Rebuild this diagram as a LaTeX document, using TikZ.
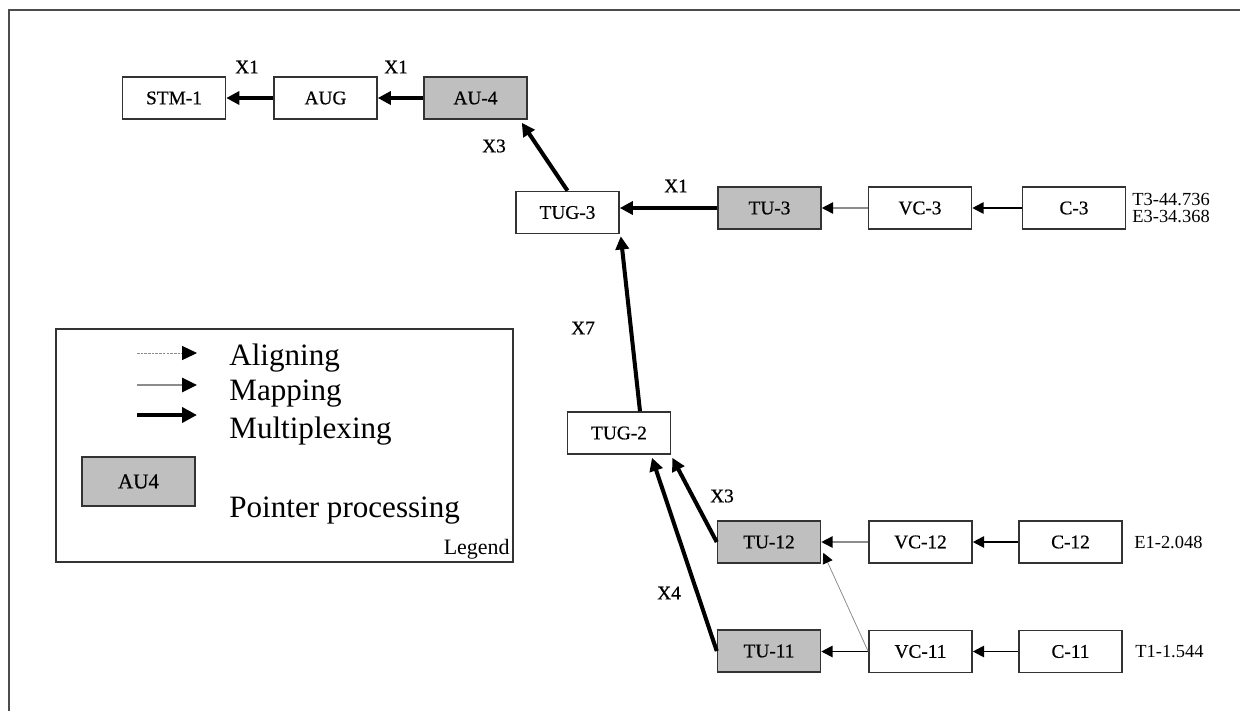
\documentclass[tikz,border=0pt]{standalone}
\usepackage{fontspec}
\setmainfont{Liberation Serif}
\newfontfamily\unitfont{Liberation Serif}[FakeBold=0.6]
\usetikzlibrary{arrows.meta,calc}

\tikzset{
  unitbox/.style={draw=black!80, line width=0.9pt, fill=white, minimum width=2.06cm,
    minimum height=0.84cm, inner sep=0pt, font=\unitfont\fontsize{11}{13}\selectfont},
  ptrbox/.style={unitbox, fill=black!25},
  mux/.style={draw=black, line width=2.3pt, -{Triangle[length=7.5pt,width=7.5pt]}},
  mapping/.style={draw=black!45, line width=0.9pt, -{Triangle[length=6.5pt,width=6.5pt,color=black]}},
  feed/.style={draw=black, line width=1.1pt, -{Triangle[length=6.5pt,width=6.5pt]}},
  aligning/.style={draw=black!45, line width=0.45pt, -{Triangle[length=6pt,width=6pt,color=black]}},
  mult/.style={font=\unitfont\fontsize{11}{13}\selectfont, inner sep=0pt},
  rate/.style={font=\fontsize{10.5}{12}\selectfont, inner sep=0pt, align=left, anchor=west},
  legtext/.style={font=\fontsize{17.7}{20}\selectfont, inner sep=0pt, anchor=base west}
}

\begin{document}
\begin{tikzpicture}[x=0.02cm, y=-0.02cm]
        \useasboundingbox (0,0) rectangle (1240,711);

        % Draw the outer frame
        \draw[black!70, line width=1.2pt] (9,711) -- (9,10) -- (1240,10);

        % Draw the top row
        \node[unitbox] (stm1) at (174,98) {STM-1};
        \node[unitbox] (aug) at (325.5,98) {AUG};
        \node[ptrbox] (au4) at (475.5,98) {AU-4};

        % Draw the TUG-3 branch
        \node[unitbox] (tug3) at (567.5,212.5) {TUG-3};
        \node[ptrbox] (tu3) at (769.5,208) {TU-3};
        \node[unitbox] (vc3) at (920,208) {VC-3};
        \node[unitbox] (c3) at (1074,208) {C-3};
        \node[rate] (r3) at (1132,208) {T3-44.736\\[-2pt]E3-34.368};

        % Draw the TUG-2 branch
        \node[unitbox] (tug2) at (619,433) {TUG-2};
        \node[ptrbox] (tu12) at (769,542) {TU-12};
        \node[unitbox] (vc12) at (920.5,542) {VC-12};
        \node[unitbox] (c12) at (1070.5,542) {C-12};
        \node[rate] (r12) at (1134,542) {E1-2.048};
        \node[ptrbox] (tu11) at (769,651) {TU-11};
        \node[unitbox] (vc11) at (920.5,651.5) {VC-11};
        \node[unitbox] (c11) at (1070.5,651.5) {C-11};
        \node[rate] (r11) at (1135,652) {T1-1.544};

        % Draw the multiplexing arrows
        \draw[mux] (aug) -- (stm1);
        \draw[mux] (au4) -- (aug);
        \draw[mux] (tug3.north) -- ([shift={(-6,3)}]au4.south east);
        \draw[mux] (tu3.west) -- (tug3.east |- tu3.west);
        \draw[mux] ([shift={(21,0)}]tug2.north) -- ([shift={(1,2)}]tug3.south east);
        \draw[mux] (tu12.west) -- ([shift={(1,3)}]tug2.south east);
        \draw[mux] (tu11.west) -- ([shift={(33,3)}]tug2.south);

        % Draw the mapping and aligning arrows
        \draw[mapping] (vc3) -- (tu3);
        \draw[feed] (c3) -- (vc3);
        \draw[mapping] (vc12) -- (tu12);
        \draw[feed] (c12) -- (vc12);
        \draw[feed] (vc11.west) -- (tu11.east |- vc11.west);
        \draw[feed] (c11) -- (vc11);
        \draw[aligning] (vc11.west) -- ([shift={(2,-11)}]tu12.south east);

        % Label the multiplexing factors
        \node[mult] (m1) at (247,67) {X1};
        \node[mult] (m2) at (396,67) {X1};
        \node[mult] (m3) at (494,146) {X3};
        \node[mult] (m4) at (676,186) {X1};
        \node[mult] (m5) at (583,328) {X7};
        \node[mult] (m6) at (722,496) {X3};
        \node[mult] (m7) at (669,593) {X4};

        % Draw the legend
        \node[draw=black!80, line width=0.9pt, minimum width=9.14cm, minimum height=4.66cm,
          inner sep=0pt] (legend) at (284.5,445.5) {};
        \coordinate (la0) at (137,353);
        \coordinate (la1) at (197,353);
        \coordinate (lm0) at (137,385);
        \coordinate (lm1) at (197,385);
        \coordinate (lx0) at (137,415);
        \coordinate (lx1) at (197,415);
        \draw[aligning, dash pattern=on 1.5pt off 0.6pt, -{Triangle[length=8.5pt,width=8pt,color=black]}] (la0) -- (la1);
        \draw[mapping, line width=1.6pt, -{Triangle[length=8.5pt,width=8pt,color=black]}] (lm0) -- (lm1);
        \draw[mux, line width=2.8pt, -{Triangle[length=8.5pt,width=8.5pt]}] (lx0) -- (lx1);
        \node[legtext] (t1) at (229,365) {Aligning};
        \node[legtext] (t2) at (229,400) {Mapping};
        \node[legtext] (t3) at (229,438) {Multiplexing};
        \node[ptrbox, minimum width=2.26cm, minimum height=0.98cm, font=\unitfont\fontsize{12}{14}\selectfont] (key) at (138.5,481.5) {AU4};
        \node[legtext] (t4) at (229,517) {Pointer processing};
        \node[font=\fontsize{12.5}{14}\selectfont, inner sep=0pt, anchor=base east] (t5) at (510,554) {Legend};
    \end{tikzpicture}
\end{document}
